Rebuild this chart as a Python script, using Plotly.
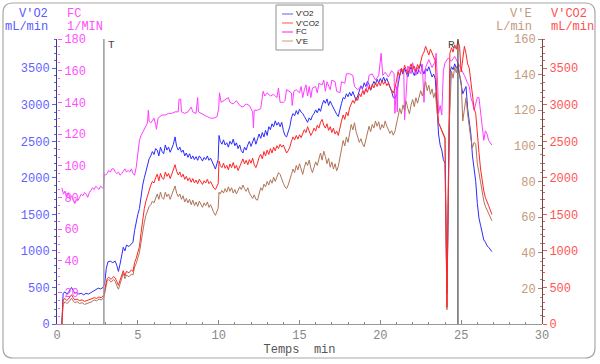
import plotly.graph_objects as go

# ---------------- data ----------------
t_vo2 = [0.30,0.38,0.5,0.6,0.7,0.8,0.9,1.0,1.1,1.2,1.35,1.5,1.65,1.8,1.95,2.1,2.25,2.4,2.55,2.7,2.85,2.95,
         3.05,3.15,3.3,3.45,3.6,3.7,3.8,3.9,4.0,4.1,4.2,4.3,4.45,4.6,4.7,4.8,4.9,5.0,5.1,5.2,5.3,5.4,5.5,5.6,5.7,5.8,5.9,
         6.0,6.1,6.2,6.3,6.4,6.5,6.6,6.7,6.8,6.9,7.0,7.1,7.2,7.3,7.4,7.5,7.6,7.7,7.8,7.9,8.0,8.1,8.2,8.3,8.4,8.5,8.6,8.7,8.8,8.9,
         9.0,9.1,9.2,9.3,9.4,9.5,9.6,9.7,9.8,9.9,9.97,10.02,10.1,10.2,10.3,10.4,10.5,10.6,10.7,10.8,10.9,11.0,11.1,11.2,11.3,11.4,
         11.5,11.6,11.7,11.8,11.9,12.0,12.1,12.2,12.3,12.4,12.5,12.6,12.7,12.8,12.9,13.0,13.1,13.2,13.3,13.4,13.5,13.6,13.7,13.8,
         13.9,14.0,14.1,14.2,14.3,14.4,14.5,14.6,14.7,14.8,14.9,15.0,15.1,15.2,15.3,15.4,15.5,15.6,15.7,15.8,15.9,16.0,16.1,16.2,
         16.3,16.4,16.5,16.6,16.7,16.8,16.9,17.0,17.1,17.2,17.3,17.4,17.5,17.6,17.7,17.8,17.9,18.0,18.1,18.2,18.3,18.4,18.5,18.6,
         18.7,18.8,18.9,19.0,19.1,19.2,19.3,19.4,19.5,19.6,19.7,19.8,19.9,20.0,20.1,20.2,20.3,20.4,20.5,20.6,20.7,20.8,20.9,21.0,
         21.1,21.2,21.3,21.4,21.5,21.6,21.7,21.8,21.9,22.0,22.1,22.2,22.3,22.4,22.5,22.6,22.7,22.8,22.9,23.0,23.1,23.2,23.3,23.4,
         23.5,23.6,23.7,23.8,23.9,24.0,24.12,24.25,24.32,24.4,24.5,24.6,24.7,24.8,24.9,25.0,25.1,25.2,25.3,25.4,25.5,25.6,25.7,
         25.8,25.9,26.0,26.1,26.2,26.3,26.4,26.5,26.6,26.7,26.8,26.9]
vo2 = [0,420,440,410,430,470,500,460,420,430,410,420,400,420,410,430,450,470,490,480,500,560,
       760,850,860,840,860,800,720,820,960,1050,1000,1080,1060,1090,1120,1280,1400,1500,1580,1760,1900,2000,2100,2180,2260,2300,2360,
       2320,2400,2380,2300,2420,2360,2330,2450,2380,2420,2350,2400,2460,2560,2430,2380,2420,2350,2380,2300,2340,2280,2330,2260,2300,2250,2290,2240,2300,2270,
       2230,2280,2250,2300,2240,2270,2220,2150,2120,2200,2250,2580,2500,2460,2520,2450,2480,2420,2500,2460,2530,2440,2480,2400,2450,2370,
       2340,2420,2380,2450,2500,2430,2480,2550,2460,2520,2600,2540,2620,2560,2650,2580,2700,2660,2740,2700,2780,2720,2760,2700,
       2760,2650,2580,2560,2620,2700,2820,2880,2850,2920,2870,2940,2900,2880,2840,2800,2760,2820,2790,2850,2880,2930,2890,2950,
       2910,3000,3060,3020,3080,2990,3050,3000,2950,2900,2870,2840,2950,3020,3100,3080,3150,3110,3170,3120,3180,3130,3060,3120,
       3200,3260,3220,3300,3250,3320,3280,3200,3260,3320,3280,3350,3300,3360,3310,3380,3320,3360,3300,3250,3180,3100,3080,3150,
       3300,3400,3480,3420,3500,3440,3380,3460,3520,3450,3400,3480,3420,3500,3560,3480,3420,3500,3460,3520,3440,3380,3420,3350,
       3000,2600,2450,2380,2250,2200,420,2800,3450,3520,3480,3560,3500,3540,3420,3300,3150,3200,3250,2950,2750,2600,2300,
       2100,1950,1650,1450,1350,1260,1150,1120,1070,1050,1010,990]

t_vco2 = [0.30,0.38,0.5,0.6,0.7,0.8,0.9,1.0,1.1,1.25,1.4,1.55,1.7,1.85,2.0,2.15,2.3,2.45,2.6,2.75,2.9,
          3.0,3.1,3.2,3.35,3.5,3.6,3.7,3.8,3.9,4.0,4.1,4.2,4.3,4.45,4.6,4.7,4.8,4.9,5.0,5.1,5.2,5.3,5.4,5.5,5.6,5.7,5.8,5.9,
          6.0,6.1,6.2,6.3,6.4,6.5,6.6,6.7,6.8,6.9,7.0,7.1,7.2,7.3,7.4,7.5,7.6,7.7,7.8,7.9,8.0,8.1,8.2,8.3,8.4,8.5,8.6,8.7,8.8,8.9,
          9.0,9.1,9.2,9.3,9.4,9.5,9.6,9.7,9.8,9.9,9.97,10.02,10.1,10.2,10.3,10.4,10.5,10.6,10.7,10.8,10.9,11.0,11.1,11.2,11.3,11.4,
          11.5,11.6,11.7,11.8,11.9,12.0,12.1,12.2,12.3,12.4,12.5,12.6,12.7,12.8,12.9,13.0,13.1,13.2,13.3,13.4,13.5,13.6,13.7,13.8,
          13.9,14.0,14.1,14.2,14.3,14.4,14.5,14.6,14.7,14.8,14.9,15.0,15.1,15.2,15.3,15.4,15.5,15.6,15.7,15.8,15.9,16.0,16.1,16.2,
          16.3,16.4,16.5,16.6,16.7,16.8,16.9,17.0,17.1,17.2,17.3,17.4,17.5,17.6,17.7,17.8,17.9,18.0,18.1,18.2,18.3,18.4,18.5,18.6,
          18.7,18.8,18.9,19.0,19.1,19.2,19.3,19.4,19.5,19.6,19.7,19.8,19.9,20.0,20.1,20.2,20.3,20.4,20.5,20.6,20.7,20.8,20.9,21.0,
          21.1,21.2,21.3,21.4,21.5,21.6,21.7,21.8,21.9,22.0,22.1,22.2,22.3,22.4,22.5,22.6,22.7,22.8,22.9,23.0,23.1,23.2,23.3,23.4,
          23.5,23.6,23.7,23.8,23.9,24.0,24.12,24.22,24.3,24.4,24.5,24.6,24.7,24.8,24.9,25.0,25.1,25.2,25.3,25.4,25.5,25.6,25.7,
          25.8,25.9,26.0,26.1,26.2,26.3,26.4,26.5,26.6,26.7,26.8,26.9]
vco2 = [0,330,350,320,340,380,400,360,330,340,320,330,310,320,330,340,360,350,370,360,400,
        520,620,640,610,650,630,580,530,600,680,730,660,720,700,740,720,840,900,980,1060,1250,1450,1580,1680,1760,1850,1900,1950,
        1930,2000,2050,1960,2060,2000,1980,2080,2020,2060,1990,2050,2120,2180,2090,2040,2080,2010,2050,1980,2020,1960,2000,1940,1990,1930,1970,1920,1980,1950,
        1910,1960,1930,1980,1920,1950,1900,1860,1840,1890,1920,2230,2170,2140,2200,2130,2170,2110,2190,2140,2210,2130,2170,2100,2150,2200,
        2260,2190,2240,2180,2250,2200,2270,2180,2140,2200,2280,2320,2260,2360,2300,2380,2320,2400,2340,2420,2370,2440,2400,2460,
        2420,2450,2380,2340,2370,2420,2500,2560,2520,2580,2530,2590,2550,2600,2660,2620,2700,2640,2580,2620,2680,2640,2720,2680,
        2760,2800,2720,2680,2740,2650,2700,2620,2680,2600,2640,2580,2700,2780,2860,2800,2900,2850,2960,3000,3060,3020,3100,3060,
        3150,3110,3190,3140,3220,3170,3250,3200,3280,3230,3300,3250,3310,3260,3330,3280,3320,3260,3300,3240,3200,3160,3220,3350,
        3450,3400,3500,3440,3540,3480,3420,3500,3560,3480,3530,3460,3550,3500,3600,3680,3720,3800,3740,3680,3760,3700,3640,3600,
        3100,2750,2700,2650,2620,2550,230,2600,3700,3780,3720,3820,3760,3880,3800,3450,3650,3800,3700,3560,3500,3300,3120,
        2950,2880,2550,2350,2120,1950,1820,1730,1660,1620,1560,1500]

t_ve = [0.30,0.38,0.5,0.6,0.7,0.8,0.9,1.0,1.1,1.25,1.4,1.55,1.7,1.85,2.0,2.15,2.3,2.45,2.6,2.75,2.9,
        3.0,3.1,3.2,3.35,3.5,3.6,3.7,3.8,3.9,4.0,4.1,4.2,4.3,4.45,4.6,4.7,4.8,4.9,5.0,5.1,5.2,5.3,5.4,5.5,5.6,5.7,5.8,5.9,
        6.0,6.1,6.2,6.3,6.4,6.5,6.6,6.7,6.8,6.9,7.0,7.1,7.2,7.3,7.4,7.5,7.6,7.7,7.8,7.9,8.0,8.1,8.2,8.3,8.4,8.5,8.6,8.7,8.8,8.9,
        9.0,9.1,9.2,9.3,9.4,9.5,9.6,9.7,9.8,9.9,9.97,10.02,10.1,10.2,10.3,10.4,10.5,10.6,10.7,10.8,10.9,11.0,11.1,11.2,11.3,11.4,
        11.5,11.6,11.7,11.8,11.9,12.0,12.1,12.2,12.3,12.4,12.5,12.6,12.7,12.8,12.9,13.0,13.1,13.2,13.3,13.4,13.5,13.6,13.7,13.8,
        13.9,14.0,14.1,14.2,14.3,14.4,14.5,14.6,14.7,14.8,14.9,15.0,15.1,15.2,15.3,15.4,15.5,15.6,15.7,15.8,15.9,16.0,16.1,16.2,
        16.3,16.4,16.5,16.6,16.7,16.8,16.9,17.0,17.1,17.2,17.3,17.4,17.5,17.6,17.7,17.8,17.9,18.0,18.1,18.2,18.3,18.4,18.5,18.6,
        18.7,18.8,18.9,19.0,19.1,19.2,19.3,19.4,19.5,19.6,19.7,19.8,19.9,20.0,20.1,20.2,20.3,20.4,20.5,20.6,20.7,20.8,20.9,21.0,
        21.1,21.2,21.3,21.4,21.5,21.6,21.7,21.8,21.9,22.0,22.1,22.2,22.3,22.4,22.5,22.6,22.7,22.8,22.9,23.0,23.1,23.2,23.3,23.4,
        23.5,23.6,23.7,23.8,23.9,24.0,24.12,24.25,24.35,24.4,24.5,24.6,24.7,24.8,24.9,25.0,25.1,25.2,25.3,25.4,25.5,25.6,25.7,
        25.8,25.9,26.0,26.1,26.2,26.3,26.4,26.5,26.6,26.7,26.8,26.9]
ve = [0,11,12.5,11.5,12,13.5,14.5,13,12,12.5,11.5,12,11,11.5,12,12.5,13.5,13,14,13.5,15,
      20,24,25,23.5,25,24,21.5,19.5,22.5,26,28.5,25.5,27.5,26.5,28,27.5,32,34,37,40,46,52,57,61,64,66,67,69,
      68,71,73,70,74,71,70,74,71.5,73,70,72.5,75,77.5,73.5,71.5,73,70,72,68.5,70.5,68,70,67,69.5,66.5,68.5,66,69,67.5,
      65.5,68,66.5,68.5,65.5,67,64.5,62.5,61,63.5,65,74,73,75,73.5,76,74,77,74.5,76.5,73.5,75.5,73,75,77,75.5,
      78,76,74.5,76.5,73.5,72,70.5,72.5,70,69.5,73,76.5,75,78.5,77,80,78,81,79,82.5,80,83,85,84,
      81,79,77,76,78,80.5,84,87,85,89,86.5,90,87,84,88,91,89,92,87.5,85,88,91,89,93,
      96,92,97,94,90,93,88,91,87,90,86,88.5,93,98,103,100,105,102,108,112,109,113,108,105,
      102,104,101,99.5,103,107,111,108,112,110,114,111,113.5,109,112,110,114,111,109,107,108.5,106,108,112,
      117,121,118,123,120,125,121,118,123,126,122,127,124,128,131,128,133,136,131,134,129,132,127,130,
      120,113,111,108,106,104,8,110,140,142,138,144,141,146,140,136,114,122,127,118,109,104,99,
      102,101,90,85,79,73,69,66,64,62,60,58]

t_fc = [0.30,0.4,0.5,0.6,0.7,0.8,0.9,1.0,1.1,1.2,1.3,1.4,1.5,1.6,1.7,1.8,1.9,2.0,2.1,2.2,2.3,2.4,2.5,2.6,2.7,2.8,2.88,
        2.92,3.0,3.1,3.2,3.3,3.4,3.5,3.6,3.7,3.8,3.9,4.0,4.1,4.2,4.3,4.4,4.5,4.6,4.7,4.8,4.9,5.0,5.1,5.2,5.3,5.4,5.5,5.6,
        5.65,5.7,5.8,5.9,6.0,6.1,6.15,6.25,6.4,6.5,6.7,6.9,7.1,7.3,7.5,7.55,7.65,7.7,7.9,8.1,8.3,8.4,8.6,8.7,8.75,8.9,9.1,
        9.3,9.5,9.7,9.9,10.0,10.05,10.15,10.3,10.5,10.6,10.7,10.9,11.1,11.3,11.5,11.7,11.9,12.1,12.15,12.2,12.4,12.6,12.75,
        12.85,13.0,13.2,13.4,13.6,13.7,13.8,14.0,14.1,14.2,14.4,14.5,14.55,14.65,14.8,15.0,15.1,15.2,15.3,15.4,15.5,15.6,
        15.7,15.8,16.0,16.1,16.2,16.4,16.5,16.6,16.7,16.9,17.0,17.2,17.3,17.5,17.6,17.8,17.9,18.1,18.3,18.4,18.6,18.8,19.0,
        19.2,19.3,19.5,19.7,19.9,20.05,20.15,20.3,20.5,20.7,20.85,20.9,21.0,21.05,21.1,21.3,21.45,21.5,21.6,21.7,21.9,22.0,
        22.2,22.3,22.5,22.6,22.7,22.8,23.0,23.2,23.4,23.45,23.55,23.6,23.7,23.8,23.9,24.0,24.2,24.4,24.6,24.8,25.0,25.2,
        25.4,25.5,25.6,25.7,25.8,25.9,26.0,26.1,26.2,26.3,26.4,26.5,26.6,26.7,26.8,26.9]
fc = [86,82,84,80,83,79,81,78,76,79,78,80,82,81,83,82,80,83,85,86,85,87,86,85,87,86,86,
      95,94,95,97,96,98,98,96,95,96,94,95,97,98,96,97,96,98,95,94,99,108,116,119,121,122,124,127,
      135,128,127,129,130,126,123,130,131,132,132,133,133,134,134,142,142,134,133,134,137,134,133,143,134,133,132,
      131,130,130,131,136,146,140,141,142,143,140,139,141,138,137,139,138,134,124,135,135,136,147,
      144,146,144,145,143,149,140,140,141,148,147,146,138,147,148,146,150,143,148,151,144,150,
      143,149,150,146,152,151,154,147,153,148,154,153,147,146,153,152,158,158,157,150,148,150,146,
      150,157,158,154,157,171,157,159,156,160,158,133,150,134,160,161,160,129,150,163,158,165,
      157,162,158,164,140,162,167,162,166,171,150,133,138,132,160,165,168,166,169,165,162,157,
      152,150,143,140,135,140,143,143,135,125,116,122,120,116,114,113]

x_ticks = [0, 5, 10, 15, 20, 25, 30]
vo2_ticks = [0, 500, 1000, 1500, 2000, 2500, 3000, 3500]
fc_ticks = [20, 40, 60, 80, 100, 120, 140, 160, 180]
ve_ticks = [20, 40, 60, 80, 100, 120, 140, 160]
vco2_ticks = [0, 500, 1000, 1500, 2000, 2500, 3000, 3500]
markers = [("T", 2.9), ("R", 24.8)]
legend_names = ["V'O2", "V'CO2", "FC", "V'E"]

# ---------------- styling ----------------
W, H = 600, 364
L, R, T, B = 57, 58, 39, 40
PW, PH = W - L - R, H - T - B
def xp(px): return (px - L) / PW
def yp(py): return (H - B - py) / PH

C_VO2, C_VCO2, C_FC, C_VE = "#2b2bff", "#ff2424", "#ff3cff", "#b07458"
MONO = "Liberation Mono, Courier New, monospace"

fig = go.Figure()
fig.add_trace(go.Scatter(x=t_fc, y=fc, name="FC", yaxis="y2", mode="lines",
                         line=dict(color=C_FC, width=1)))
fig.add_trace(go.Scatter(x=t_ve, y=ve, name="V'E", yaxis="y3", mode="lines",
                         line=dict(color=C_VE, width=1)))
fig.add_trace(go.Scatter(x=t_vco2, y=vco2, name="V'CO2", yaxis="y4", mode="lines",
                         line=dict(color=C_VCO2, width=1)))
fig.add_trace(go.Scatter(x=t_vo2, y=vo2, name="V'O2", yaxis="y", mode="lines",
                         line=dict(color=C_VO2, width=1)))

def tickfont(c):
    return dict(family=MONO, size=12, color=c)

fig.update_layout(
    width=W, height=H, margin=dict(l=L, r=R, t=T, b=B, autoexpand=False),
    paper_bgcolor="white", plot_bgcolor="white", showlegend=False,
    xaxis=dict(range=[0, 30], tickvals=x_ticks, ticks="inside", ticklen=4, tickcolor="#888",
               showline=True, linecolor="#999", linewidth=1, showgrid=False, zeroline=False,
               tickfont=tickfont("#888"), automargin=False,
               minor=dict(dtick=1, ticks="inside", ticklen=2, tickcolor="#888"),
               title=dict(text="Temps\u00a0\u00a0min", font=dict(family=MONO, size=12, color="#555"), standoff=2)),
    yaxis=dict(range=[0, 3900], tickvals=vo2_ticks, side="left", ticks="outside", ticklen=4,
               tickcolor="#6060ff", showline=True, linecolor="#3c3c78", linewidth=1, automargin=False,
               showgrid=False, zeroline=False, tickfont=tickfont("#6262ff"),
               minor=dict(dtick=100, ticks="outside", ticklen=2, tickcolor="#6060ff")),
    # FC: drawn at the left edge, labels facing into the plot
    yaxis2=dict(range=[0, 180], tickvals=fc_ticks, overlaying="y", side="right", anchor="free", position=0,
                ticks="outside", ticklen=4, tickcolor="#ff50ff", automargin=False,
                showline=False, showgrid=False, zeroline=False, tickfont=tickfont("#ff50ff"),
                minor=dict(dtick=5, ticks="outside", ticklen=2, tickcolor="#ff50ff")),
    # V'E: drawn at the right edge, labels facing into the plot
    yaxis3=dict(range=[0, 160], tickvals=ve_ticks, overlaying="y", side="left", anchor="free", position=1,
                ticks="outside", ticklen=4, tickcolor="#b08070", automargin=False,
                showline=True, linecolor="#6a4a44", linewidth=1,
                showgrid=False, zeroline=False, tickfont=tickfont("#c49a7c"),
                minor=dict(dtick=5, ticks="outside", ticklen=2, tickcolor="#b08070")),
    yaxis4=dict(range=[0, 3900], tickvals=vco2_ticks, overlaying="y", side="right", anchor="x",
                ticks="outside", ticklen=4, tickcolor="#ff5050", automargin=False,
                showline=False, showgrid=False, zeroline=False, tickfont=tickfont("#ff5555"),
                minor=dict(dtick=100, ticks="outside", ticklen=2, tickcolor="#ff5050")),
)

shapes = []
# rounded frame
x0, x1, y0, y1 = xp(3), xp(595), yp(358), yp(3)
rx, ry = 10 / PW, 10 / PH
path = (f"M {x0+rx},{y1} L {x1-rx},{y1} Q {x1},{y1} {x1},{y1-ry} L {x1},{y0+ry} Q {x1},{y0} {x1-rx},{y0} "
        f"L {x0+rx},{y0} Q {x0},{y0} {x0},{y0+ry} L {x0},{y1-ry} Q {x0},{y1} {x0+rx},{y1} Z")
shapes.append(dict(type="path", path=path, xref="paper", yref="paper",
                   line=dict(color="#a8a8a8", width=1.2)))
# T / R markers
shapes.append(dict(type="line", xref="x", yref="paper", x0=markers[0][1], x1=markers[0][1], y0=0, y1=1,
                   line=dict(color="#9a9a9a", width=1.5)))
shapes.append(dict(type="line", xref="x", yref="paper", x0=markers[1][1], x1=markers[1][1], y0=0, y1=1,
                   line=dict(color="#444", width=1.2)))
# manual legend box
shapes.append(dict(type="rect", xref="paper", yref="paper", x0=xp(276), x1=xp(323), y0=yp(50), y1=yp(5),
                   line=dict(color="#909090", width=1), fillcolor="white"))
leg_cols = ["#7878ff", "#ff6e6e", "#ff3cff", "#d4aa90"]
leg_y = [14, 23, 32, 41]
annotations = []
for name, col, ly in zip(legend_names, leg_cols, leg_y):
    shapes.append(dict(type="line", xref="paper", yref="paper", x0=xp(282), x1=xp(293), y0=yp(ly), y1=yp(ly),
                       line=dict(color=col, width=1.2)))
    annotations.append(dict(text=name, xref="paper", yref="paper", x=xp(294), y=yp(ly), xanchor="left",
                            yanchor="middle", showarrow=False,
                            font=dict(family="Liberation Sans, Arial", size=8, color="#222")))

# marker labels
annotations.append(dict(text=markers[0][0], x=markers[0][1], xref="x", y=yp(45), yref="paper",
                        xanchor="left", yanchor="middle", xshift=2, showarrow=False,
                        font=dict(family=MONO, size=11, color="#444")))
annotations.append(dict(text=markers[1][0], x=markers[1][1], xref="x", y=yp(45), yref="paper",
                        xanchor="right", yanchor="middle", xshift=-1, showarrow=False,
                        font=dict(family=MONO, size=11, color="#444")))

# axis titles
def title(lines, px, anchor, color):
    for txt, py in zip(lines, [14, 27]):
        annotations.append(dict(text=txt, xref="paper", yref="paper", x=xp(px), y=yp(py),
                                xanchor=anchor, yanchor="middle", showarrow=False,
                                font=dict(family=MONO, size=12, color=color)))
title(["V'O2", "mL/min"], 50, "right", "#5a5aff")
title(["FC", "1/MIN"], 65, "left", "#ff50ff")
title(["V'E", "L/min"], 534, "right", "#c49a7c")
title(["V'CO2", "mL/min"], 549, "left", "#ff5050")

fig.update_layout(shapes=shapes, annotations=annotations)
fig.write_html("out.html", config={"displayModeBar": False},
               post_script="document.body.style.margin='0';document.body.style.padding='0';")
